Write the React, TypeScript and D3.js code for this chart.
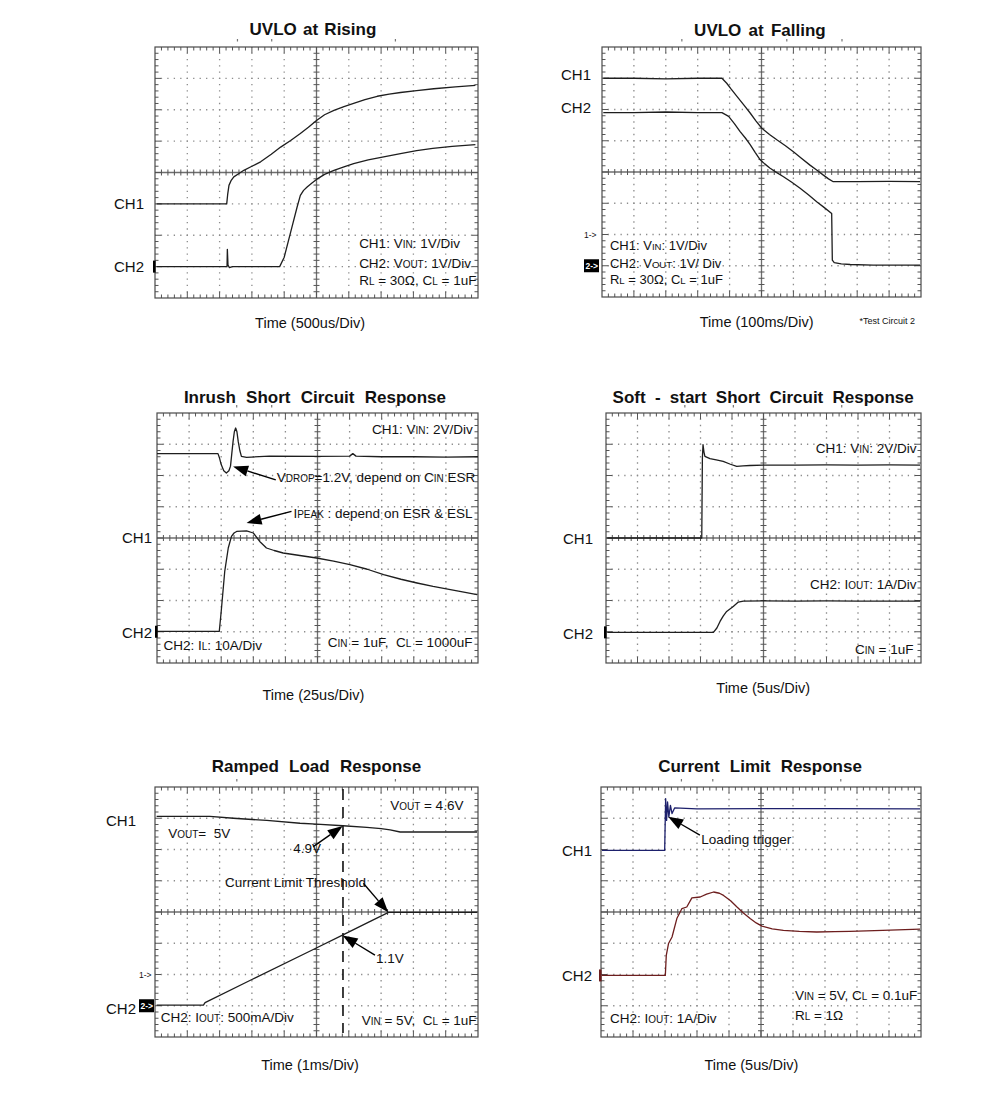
import React from "react";
import * as d3 from "d3";

type Pt = [number, number];

// ---------- DATA: time in divisions (0–10), level in divisions (0–8, from bottom) ----------
const uvloRiseVin: Pt[] = [[0.05,3.0],[2.22,3.0],[2.25,3.3],[2.29,3.59],[2.36,3.75],[2.44,3.86],[2.6,3.97],[2.75,4.07],[3.0,4.2],[3.27,4.34],[3.6,4.58],[3.89,4.81],[4.2,5.02],[4.5,5.24],[4.75,5.44],[5.0,5.66],[5.25,5.84],[5.54,5.98],[5.85,6.1],[6.15,6.2],[6.5,6.32],[6.88,6.43],[7.25,6.5],[7.6,6.55],[8.1,6.61],[8.63,6.67],[9.3,6.73],[9.92,6.78]];
const uvloRiseVout: Pt[] = [[0.05,1.0],[2.23,1.0],[2.24,1.55],[2.26,1.05],[2.3,0.97],[2.4,1.0],[3.86,1.0],[4.0,1.3],[4.2,2.1],[4.4,2.9],[4.5,3.27],[4.6,3.43],[4.71,3.54],[4.85,3.66],[5.0,3.78],[5.25,3.94],[5.54,4.07],[5.85,4.18],[6.15,4.28],[6.6,4.4],[7.08,4.5],[7.6,4.6],[8.1,4.7],[8.6,4.77],[9.2,4.83],[9.92,4.89]];

const uvloFallVin: Pt[] = [[0.04,7.0],[1.0,7.0],[2.0,6.98],[3.0,7.0],[3.76,7.0],[3.91,6.84],[4.05,6.65],[4.23,6.42],[4.45,6.14],[4.65,5.88],[4.83,5.63],[5.01,5.4],[5.25,5.2],[5.48,5.03],[5.75,4.84],[6.0,4.65],[6.25,4.44],[6.52,4.22],[6.75,4.05],[6.94,3.9],[7.1,3.78],[7.25,3.69],[8.0,3.69],[9.0,3.7],[9.97,3.69]];
const uvloFallVout: Pt[] = [[0.04,5.9],[1.0,5.9],[2.0,5.92],[3.0,5.9],[3.76,5.9],[3.97,5.78],[4.15,5.55],[4.33,5.29],[4.5,5.08],[4.65,4.87],[4.8,4.63],[4.96,4.39],[5.1,4.26],[5.27,4.12],[5.48,3.98],[5.69,3.85],[5.95,3.67],[6.21,3.48],[6.47,3.27],[6.73,3.05],[6.97,2.86],[7.2,2.67],[7.22,1.18],[7.28,1.1],[7.5,1.06],[7.78,1.04],[8.5,1.02],[9.97,1.02]];

const inrushVin: Pt[] = [[0.0,6.7],[1.0,6.7],[1.9,6.7],[1.95,6.55],[2.0,6.35],[2.08,6.15],[2.16,6.08],[2.24,6.15],[2.29,6.3],[2.33,6.7],[2.37,7.09],[2.41,7.4],[2.45,7.52],[2.49,7.4],[2.53,7.09],[2.58,6.8],[2.63,6.61],[2.79,6.58],[3.5,6.62],[5.0,6.61],[6.0,6.62],[6.1,6.7],[6.2,6.62],[7.0,6.6],[8.0,6.6],[9.0,6.59],[10.0,6.6]];
const inrushIl: Pt[] = [[0.0,1.01],[1.94,1.01],[2.0,1.65],[2.11,2.93],[2.22,3.68],[2.32,4.05],[2.4,4.16],[2.48,4.21],[2.79,4.23],[3.0,4.16],[3.2,3.89],[3.41,3.68],[3.65,3.6],[3.93,3.52],[4.45,3.44],[4.97,3.36],[5.5,3.26],[6.01,3.15],[6.55,3.0],[7.06,2.83],[7.6,2.68],[8.1,2.56],[8.6,2.45],[9.14,2.35],[9.6,2.26],[9.97,2.19]];

const softVin: Pt[] = [[0.04,4.0],[3.04,4.0],[3.06,6.56],[3.08,6.99],[3.11,6.75],[3.14,6.61],[3.3,6.54],[3.5,6.5],[3.72,6.45],[3.95,6.36],[4.15,6.29],[4.35,6.31],[4.57,6.32],[5.0,6.33],[6.0,6.33],[7.0,6.34],[8.0,6.33],[9.0,6.34],[9.97,6.33]];
const softIout: Pt[] = [[0.04,0.98],[3.41,0.98],[3.52,1.12],[3.62,1.33],[3.72,1.5],[3.83,1.65],[4.04,1.81],[4.2,1.95],[4.36,1.98],[5.0,1.99],[6.0,1.98],[7.0,1.99],[8.0,1.98],[9.97,1.98]];

const rampVout: Pt[] = [[0.05,7.06],[1.7,7.06],[2.43,7.0],[3.46,6.93],[4.49,6.84],[5.0,6.81],[5.82,6.76],[6.56,6.71],[7.0,6.67],[7.28,6.63],[7.59,6.56],[8.5,6.56],[9.97,6.56]];
const rampIout: Pt[] = [[0.05,1.02],[1.5,1.02],[1.55,1.1],[3.0,1.84],[4.9,2.8],[5.82,3.27],[6.6,3.67],[7.23,3.99],[8.5,3.99],[9.97,3.99]];

const limitVin: Pt[] = [[0.03,5.97],[1.99,5.97],[2.02,7.63],[2.05,6.93],[2.08,7.52],[2.12,7.04],[2.17,7.41],[2.22,7.15],[2.3,7.33],[3.0,7.3],[5.0,7.31],[7.0,7.31],[9.97,7.3]];
const limitIout: Pt[] = [[0.03,1.97],[2.01,1.97],[2.04,2.61],[2.11,2.99],[2.22,3.2],[2.37,3.79],[2.53,4.11],[2.68,4.16],[2.84,4.45],[3.1,4.48],[3.3,4.57],[3.52,4.64],[3.7,4.6],[3.83,4.53],[4.05,4.36],[4.25,4.16],[4.45,3.97],[4.66,3.79],[4.85,3.65],[5.03,3.55],[5.35,3.46],[5.7,3.41],[6.2,3.38],[6.74,3.36],[7.3,3.37],[7.78,3.38],[8.8,3.41],[9.97,3.45]];

const titles = ["UVLO at Rising", "UVLO at Falling", "Inrush Short Circuit Response", "Soft - start Short Circuit Response", "Ramped Load Response", "Current Limit Response"];
const timeLabels = ["Time (500us/Div)", "Time (100ms/Div)", "Time (25us/Div)", "Time (5us/Div)", "Time (1ms/Div)", "Time (5us/Div)"];

const FONT = '"Liberation Sans", Arial, Helvetica, sans-serif';
const TRACE = "#1e1e1e";
const NAVY = "#1d206c";
const MAROON = "#6d1e1e";

interface Note { t: number; v: number; text: string; anchor?: "start" | "end" | "middle" }
interface Arrow { from: Pt; to: Pt }
interface PanelCfg {
  box: [number, number, number, number];
  title: string; titleT: number; titleDy: number; ws: number;
  xlabel: string; xlabelT: number; xlabelDy: number;
  traces: { data: Pt[]; color: string }[];
  chLabels: { text: string; v: number }[]; chEnd: number;
  chBar?: { v: number; color: string };
  boxMarks?: { one: number; two: number; dx: number };
  notes: Note[]; noteSize: number; arrows: Arrow[];
  dashT?: number; topMarks: number[];
}

const panels: PanelCfg[] = [
  {
    box: [155, 47, 478, 298], title: titles[0], titleT: 4.89, titleDy: -12, ws: 1.5,
    xlabel: timeLabels[0], xlabelT: 4.8, xlabelDy: 30,
    traces: [{ data: uvloRiseVin, color: TRACE }, { data: uvloRiseVout, color: TRACE }],
    chLabels: [{ text: "CH1", v: 3 }, { text: "CH2", v: 1 }], chEnd: -11,
    chBar: { v: 1, color: "#000" },
    notes: [
      { t: 6.32, v: 1.59, text: "CH1: V_{IN}: 1V/Div" },
      { t: 6.32, v: 0.96, text: "CH2: V_{OUT}: 1V/Div" },
      { t: 6.32, v: 0.41, text: "R_{L} = 30Ω, C_{L} = 1uF" },
    ], noteSize: 13.5, arrows: [], topMarks: [2.55, 3.61, 7.44],
  },
  {
    box: [602, 47, 921, 297], title: titles[1], titleT: 4.95, titleDy: -11.5, ws: 2.5,
    xlabel: timeLabels[1], xlabelT: 4.85, xlabelDy: 30,
    traces: [{ data: uvloFallVin, color: TRACE }, { data: uvloFallVout, color: TRACE }],
    chLabels: [{ text: "CH1", v: 7.12 }, { text: "CH2", v: 6.05 }], chEnd: -11,
    boxMarks: { one: 2, two: 1, dx: -18 },
    notes: [
      { t: 0.25, v: 1.5, text: "CH1: V_{IN}: 1V/Div" },
      { t: 0.25, v: 0.93, text: "CH2: V_{OUT}: 1V/ Div" },
      { t: 0.25, v: 0.42, text: "R_{L} = 30Ω, C_{L} = 1uF" },
    ], noteSize: 13, arrows: [], topMarks: [2.5, 5.79, 7.52],
  },
  {
    box: [157, 413, 478, 663], title: titles[2], titleT: 4.92, titleDy: -10, ws: 5.5,
    xlabel: timeLabels[2], xlabelT: 4.87, xlabelDy: 37,
    traces: [{ data: inrushVin, color: TRACE }, { data: inrushIl, color: TRACE }],
    chLabels: [{ text: "CH1", v: 4 }, { text: "CH2", v: 0.97 }], chEnd: -5,
    chBar: { v: 1, color: "#000" },
    notes: [
      { t: 9.84, v: 7.32, text: "CH1: V_{IN}: 2V/Div", anchor: "end" },
      { t: 3.73, v: 5.78, text: "V_{DROP}=1.2V, depend on C_{IN} ESR" },
      { t: 4.25, v: 4.63, text: "I_{PEAK} : depend on ESR & ESL" },
      { t: 0.2, v: 0.42, text: "CH2: I_{L}: 10A/Div" },
      { t: 5.32, v: 0.52, text: "C_{IN} = 1uF,  C_{L} = 1000uF" },
    ], noteSize: 13.5,
    arrows: [{ from: [3.7, 5.86], to: [2.37, 6.29] }, { from: [4.19, 4.85], to: [2.79, 4.48] }],
    topMarks: [2.48, 3.57, 7.45],
  },
  {
    box: [606, 413, 921, 663], title: titles[3], titleT: 4.99, titleDy: -10, ws: 4.5,
    xlabel: timeLabels[3], xlabelT: 4.99, xlabelDy: 30,
    traces: [{ data: softVin, color: TRACE }, { data: softIout, color: TRACE }],
    chLabels: [{ text: "CH1", v: 3.97 }, { text: "CH2", v: 0.93 }], chEnd: -13,
    chBar: { v: 0.98, color: "#000" },
    notes: [
      { t: 9.86, v: 6.71, text: "CH1: V_{IN}: 2V/Div", anchor: "end" },
      { t: 9.86, v: 2.37, text: "CH2: I_{OUT}: 1A/Div", anchor: "end" },
      { t: 9.76, v: 0.28, text: "C_{IN} = 1uF", anchor: "end" },
    ], noteSize: 13.5, arrows: [], topMarks: [2.5, 4.04, 7.48],
  },
  {
    box: [155, 787, 478, 1037], title: titles[4], titleT: 5.0, titleDy: -15, ws: 5.5,
    xlabel: timeLabels[4], xlabelT: 4.8, xlabelDy: 33,
    traces: [{ data: rampVout, color: TRACE }, { data: rampIout, color: TRACE }],
    chLabels: [{ text: "CH1", v: 6.94 }, { text: "CH2", v: 0.92 }], chEnd: -19,
    boxMarks: { one: 2, two: 1, dx: -16 },
    notes: [
      { t: 7.28, v: 7.26, text: "V_{OUT} = 4.6V" },
      { t: 0.41, v: 6.36, text: "V_{OUT}=  5V" },
      { t: 4.28, v: 5.88, text: "4.9V" },
      { t: 2.17, v: 4.81, text: "Current Limit Threshold" },
      { t: 6.84, v: 2.36, text: "1.1V" },
      { t: 0.18, v: 0.49, text: "CH2: I_{OUT}: 500mA/Div" },
      { t: 6.4, v: 0.38, text: "V_{IN} = 5V,  C_{L} = 1uF" },
    ], noteSize: 13.5,
    arrows: [
      { from: [4.9, 6.09], to: [5.81, 6.75] },
      { from: [6.45, 4.92], to: [7.22, 3.99] },
      { from: [6.81, 2.62], to: [5.81, 3.25] },
    ],
    dashT: 5.82, topMarks: [2.53, 7.44],
  },
  {
    box: [601, 787, 921, 1037], title: titles[5], titleT: 4.97, titleDy: -15, ws: 5.5,
    xlabel: timeLabels[5], xlabelT: 4.7, xlabelDy: 33,
    traces: [{ data: limitVin, color: NAVY }, { data: limitIout, color: MAROON }],
    chLabels: [{ text: "CH1", v: 5.98 }, { text: "CH2", v: 1.98 }], chEnd: -9,
    chBar: { v: 1.97, color: MAROON },
    notes: [
      { t: 3.13, v: 6.17, text: "Loading trigger" },
      { t: 6.06, v: 1.18, text: "V_{IN} = 5V, C_{L} = 0.1uF" },
      { t: 6.06, v: 0.54, text: "R_{L} = 1Ω" },
      { t: 0.28, v: 0.44, text: "CH2: I_{OUT}: 1A/Div" },
    ], noteSize: 13.5,
    arrows: [{ from: [3.09, 6.46], to: [2.1, 7.05] }],
    topMarks: [2.51, 3.49, 7.49],
  },
];

function Rich({ x, y, text, size, anchor = "start", weight = "normal", ws = 0, fill = "#111" }:
  { x: number; y: number; text: string; size: number; anchor?: string; weight?: string; ws?: number; fill?: string }) {
  const parts = text.split(/(_\{[^}]*\})/).filter((p) => p.length > 0);
  return (
    <text x={x} y={y} fontSize={size} fontFamily={FONT} fontWeight={weight} textAnchor={anchor as any}
      fill={fill} style={{ wordSpacing: ws ? `${ws}px` : undefined, whiteSpace: "pre" }}>
      {parts.map((p, i) =>
        p.startsWith("_{") ? (
          <tspan key={i} fontSize={size * 0.74}>{p.slice(2, -1)}</tspan>
        ) : (
          <tspan key={i}>{p}</tspan>
        )
      )}
    </text>
  );
}

function ArrowMark({ x1, y1, x2, y2 }: { x1: number; y1: number; x2: number; y2: number }) {
  const ang = Math.atan2(y2 - y1, x2 - x1);
  const L = 15, W = 5.5;
  const bx = x2 - L * Math.cos(ang), by = y2 - L * Math.sin(ang);
  const px = -Math.sin(ang) * W, py = Math.cos(ang) * W;
  return (
    <g>
      <line x1={x1} y1={y1} x2={bx} y2={by} stroke="#000" strokeWidth={1.4} />
      <polygon points={`${x2},${y2} ${bx + px},${by + py} ${bx - px},${by - py}`} fill="#000" />
    </g>
  );
}

function Scope({ p }: { p: PanelCfg }) {
  const [x0, y0, x1, y1] = p.box;
  const x = d3.scaleLinear().domain([0, 10]).range([x0, x1]);
  const y = d3.scaleLinear().domain([0, 8]).range([y1, y0]);
  const mx = (x(1) - x(0)) / 5;
  const my = (y(0) - y(1)) / 5;
  const line = d3.line<Pt>().x((d) => x(d[0])).y((d) => y(d[1]));
  const minorT = d3.range(1, 50).map((i) => i / 5);
  const minorV = d3.range(1, 40).map((i) => i / 5);
  const grid = "#8c8c8c";
  const ticks: JSX.Element[] = [];
  minorT.forEach((t, i) => {
    const major = Math.abs(t - Math.round(t)) < 1e-6;
    const len = major ? 6 : 3.5;
    const xx = x(t);
    ticks.push(<line key={`tt${i}`} x1={xx} x2={xx} y1={y0} y2={y0 + len} />);
    ticks.push(<line key={`tb${i}`} x1={xx} x2={xx} y1={y1} y2={y1 - len} />);
    ticks.push(<line key={`tc${i}`} x1={xx} x2={xx} y1={y(4) - 3} y2={y(4) + 3} />);
  });
  minorV.forEach((v, i) => {
    const major = Math.abs(v - Math.round(v)) < 1e-6;
    const len = major ? 6 : 3.5;
    const yy = y(v);
    ticks.push(<line key={`tl${i}`} x1={x0} x2={x0 + len} y1={yy} y2={yy} />);
    ticks.push(<line key={`tr${i}`} x1={x1} x2={x1 - len} y1={yy} y2={yy} />);
    ticks.push(<line key={`tm${i}`} x1={x(5) - 3} x2={x(5) + 3} y1={yy} y2={yy} />);
  });
  return (
    <g>
      <g stroke={grid} strokeWidth={1.3}>
        {[1, 2, 3, 4, 6, 7, 8, 9].map((t) => (
          <line key={`gv${t}`} x1={x(t)} x2={x(t)} y1={y0} y2={y1}
            strokeDasharray={`1.3 ${my - 1.3}`} strokeDashoffset={0.65} />
        ))}
        {[1, 2, 3, 5, 6, 7].map((v) => (
          <line key={`gh${v}`} x1={x0} x2={x1} y1={y(v)} y2={y(v)}
            strokeDasharray={`1.3 ${mx - 1.3}`} strokeDashoffset={0.65} />
        ))}
      </g>
      <g stroke="#6e6e6e" strokeWidth={1.3}>
        <line x1={x(5)} x2={x(5)} y1={y0} y2={y1} />
        <line x1={x0} x2={x1} y1={y(4)} y2={y(4)} />
      </g>
      <g stroke="#555" strokeWidth={1}>{ticks}</g>
      <rect x={x0} y={y0} width={x1 - x0} height={y1 - y0} fill="none" stroke="#4a4a4a" strokeWidth={1.2} />
      {p.topMarks.map((t, i) => (
        <rect key={`tm${i}`} x={x(t) - 0.5} y={y0 - 8} width={1.2} height={2.5} fill="#777" />
      ))}
      {p.dashT !== undefined && (
        <line x1={x(p.dashT)} x2={x(p.dashT)} y1={y0 + 2} y2={y1 - 4} stroke="#111" strokeWidth={1.6} strokeDasharray="11 7" />
      )}
      {p.traces.map((tr, i) => (
        <path key={`tr${i}`} d={line(tr.data) || ""} fill="none" stroke={tr.color} strokeWidth={1.3} strokeLinejoin="round" />
      ))}
      {p.chBar && (
        <rect x={x0 - 2} y={y(p.chBar.v) - 6} width={2.6} height={12} fill={p.chBar.color} />
      )}
      {p.boxMarks && (
        <g fontFamily={FONT}>
          <text x={x0 + p.boxMarks.dx} y={y(p.boxMarks.one) + 3} fontSize={8.5} fill="#111">1-&gt;</text>
          <rect x={x0 + p.boxMarks.dx} y={y(p.boxMarks.two) - 6.5} width={15} height={13} fill="#000" />
          <text x={x0 + p.boxMarks.dx + 1.5} y={y(p.boxMarks.two) + 3} fontSize={8.5} fill="#fff" fontWeight="bold">2-&gt;</text>
        </g>
      )}
      {p.chLabels.map((c, i) => (
        <text key={`cl${i}`} x={x0 + p.chEnd} y={y(c.v)} dy="0.36em" textAnchor="end" fontSize={15} fontFamily={FONT} fill="#111">
          {c.text}
        </text>
      ))}
      {p.notes.map((n, i) => (
        <Rich key={`n${i}`} x={x(n.t)} y={y(n.v)} text={n.text} size={p.noteSize} anchor={n.anchor || "start"} />
      ))}
      {p.arrows.map((a, i) => (
        <ArrowMark key={`a${i}`} x1={x(a.from[0])} y1={y(a.from[1])} x2={x(a.to[0])} y2={y(a.to[1])} />
      ))}
      <Rich x={x(p.titleT)} y={y0 + p.titleDy} text={p.title} size={17} anchor="middle" weight="bold" ws={p.ws} />
      <text x={x(p.xlabelT)} y={y1 + p.xlabelDy} textAnchor="middle" fontSize={14.5} fontFamily={FONT} fill="#111">
        {p.xlabel}
      </text>
    </g>
  );
}

export default function App() {
  return (
    <div style={{ position: "absolute", left: 0, top: 0 }}>
      <svg width={991} height={1095} viewBox="0 0 991 1095" style={{ display: "block", background: "#fff" }}>
        <rect x={0} y={0} width={991} height={1095} fill="#fff" />
        {panels.map((p, i) => (
          <Scope key={i} p={p} />
        ))}
        <text x={915} y={324} textAnchor="end" fontSize={9} fontFamily={FONT} fill="#111">*Test Circuit 2</text>
      </svg>
    </div>
  );
}
